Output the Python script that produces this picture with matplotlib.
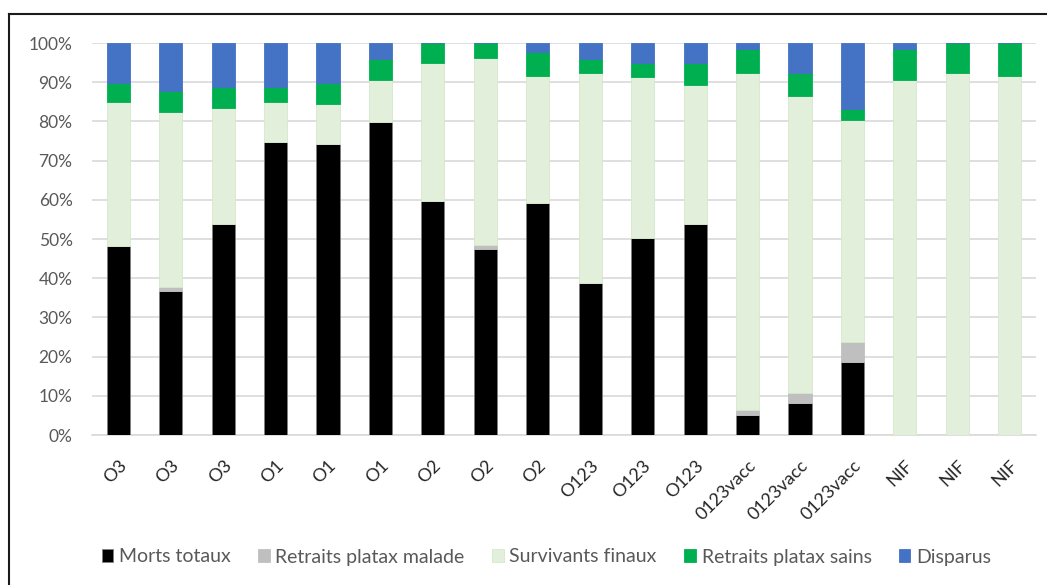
import matplotlib
matplotlib.use("Agg")
import matplotlib.pyplot as plt
import numpy as np
from matplotlib.lines import Line2D
from matplotlib.ticker import FuncFormatter, MultipleLocator

plt.rcParams['font.family'] = ['Lato', 'DejaVu Sans']

categories = ["O3", "O3", "O3", "O1", "O1", "O1", "O2", "O2", "O2",
              "O123", "O123", "O123", "0123vacc", "0123vacc", "0123vacc",
              "NIF", "NIF", "NIF"]

morts_totaux = [48.1, 36.7, 53.7, 74.7, 74.2, 79.8, 59.6, 47.5, 59.1,
                38.7, 50.3, 53.7, 5.0, 8.2, 18.6, 0.0, 0.0, 0.0]
retraits_malade = [0.0, 1.1, 0.0, 0.0, 0.0, 0.0, 0.0, 1.0, 0.0,
                   0.0, 0.0, 0.0, 1.5, 2.5, 5.1, 0.0, 0.0, 0.0]
survivants = [36.9, 44.5, 29.8, 10.3, 10.3, 10.8, 35.2, 47.8, 32.6,
              53.7, 40.9, 35.5, 85.9, 75.9, 56.7, 90.6, 92.4, 91.7]
retraits_sains = [4.7, 5.5, 5.2, 3.7, 5.2, 5.2, 5.2, 3.7, 5.9,
                  3.4, 3.6, 5.6, 6.1, 5.7, 2.7, 7.9, 7.6, 8.3]
disparus = [10.3, 12.2, 11.3, 11.3, 10.3, 4.2, 0.0, 0.0, 2.4,
            4.2, 5.2, 5.2, 1.5, 7.7, 16.9, 1.5, 0.0, 0.0]

series = [
    ("Morts totaux", morts_totaux, "#000000", "#7f7f7f"),
    ("Retraits platax malade", retraits_malade, "#BFBFBF", "#BFBFBF"),
    ("Survivants finaux", survivants, "#E2EFDA", "#D5E8CB"),
    ("Retraits platax sains", retraits_sains, "#00B050", "#00B050"),
    ("Disparus", disparus, "#4472C4", "#4472C4"),
]

W, H = 1047, 585
fig = plt.figure(figsize=(W / 100, H / 100), dpi=100)
ax = fig.add_axes([92 / W, 1 - 435 / H, (1036 - 92) / W, (435 - 43) / H])

x = np.arange(len(categories))
bottom = np.zeros(len(categories))
handles = []
for name, vals, color, edge in series:
    vals = np.array(vals)
    b = ax.bar(x, vals, width=0.44, bottom=bottom, color=color,
               edgecolor=edge, linewidth=0.6, label=name, zorder=3)
    handles.append(b)
    bottom += vals

ax.set_xlim(-0.5, len(categories) - 0.5)
ax.set_ylim(0, 100)
ax.yaxis.set_major_locator(MultipleLocator(10))
ax.yaxis.set_major_formatter(FuncFormatter(lambda v, p: f"{int(round(v))}%"))
ax.grid(axis='y', color='#D9D9D9', linewidth=1.2, zorder=0)
ax.set_axisbelow(True)
for s in ['top', 'right', 'left']:
    ax.spines[s].set_visible(False)
ax.spines['bottom'].set_color('#D9D9D9')
ax.spines['bottom'].set_linewidth(1.2)
ax.tick_params(axis='both', length=0)
ax.tick_params(axis='y', pad=14, labelsize=12.5, colors='#595959')
ax.set_xticks(x)
ax.set_xticklabels(categories, rotation=45, ha='right', rotation_mode='anchor',
                   fontsize=13, color='#262626')
ax.tick_params(axis='x', pad=16)

fig.legend(handles=handles, labels=[s[0] for s in series], loc='center left',
           bbox_to_anchor=(84 / W, 1 - 557 / H), ncol=5, frameon=False,
           fontsize=14, handlelength=0.6, handleheight=0.6, handletextpad=0.3,
           columnspacing=1.4, labelcolor='#595959')

# chart frame: top and left edges
fig.add_artist(Line2D([8.5 / W, 1.0], [1 - 14 / H] * 2, transform=fig.transFigure,
                      color='#1a1a1a', linewidth=1.5))
fig.add_artist(Line2D([8.5 / W] * 2, [0.0, 1 - 14 / H], transform=fig.transFigure,
                      color='#1a1a1a', linewidth=1.5))

fig.savefig("out.png", dpi=100)
